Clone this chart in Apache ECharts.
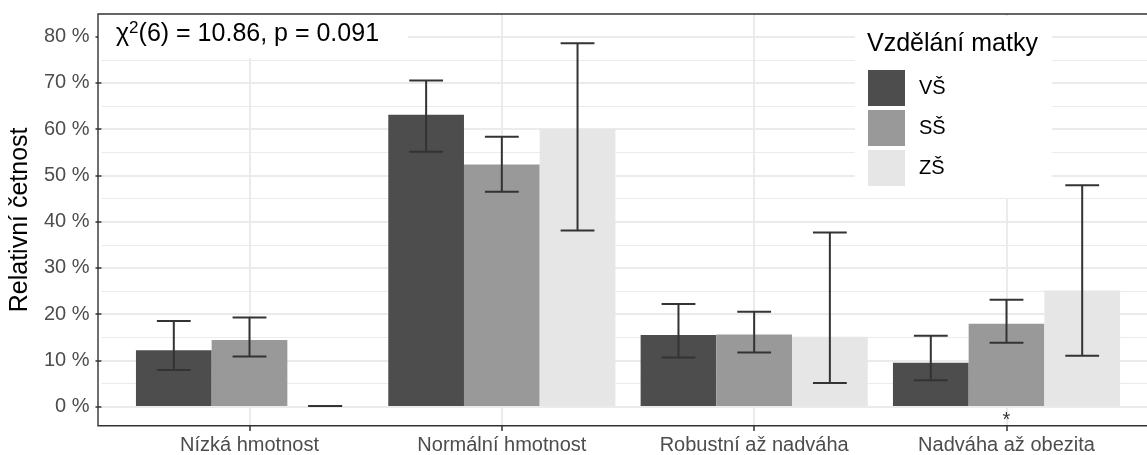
<!DOCTYPE html>
<html>
<head>
<meta charset="utf-8">
<script src="https://cdn.jsdelivr.net/npm/echarts@6/dist/echarts.min.js"></script>
<style>
html,body{margin:0;padding:0;background:#fff;}
#c{width:1147px;height:455px;}
</style>
</head>
<body>
<div id="c"></div>
<script>
// ---- data ----
const categories = ['Nízká hmotnost', 'Normální hmotnost', 'Robustní až nadváha', 'Nadváha až obezita'];
const groups = ['VŠ', 'SŠ', 'ZŠ'];
const valVS = [12.1, 63.1, 15.4, 9.4];
const valSS = [14.3, 52.3, 15.5, 17.8];
const valZS = [0.0, 60.0, 15.0, 25.0];
const loVS = [7.8, 55.1, 10.5, 5.6];
const hiVS = [18.4, 70.5, 22.1, 15.2];
const loSS = [10.7, 46.4, 11.6, 13.7];
const hiSS = [19.2, 58.3, 20.4, 23.0];
const loZS = [0.0, 38.0, 5.0, 10.9];
const hiZS = [0.0, 78.6, 37.6, 47.8];
const majorTicks = [0, 10, 20, 30, 40, 50, 60, 70, 80];
const minorTicks = [5, 15, 25, 35, 45, 55, 65, 75];
const signif = ['', '', '', '*'];
const legendTitle = 'Vzdělání matky';
const yTitle = 'Relativní četnost';
const testText = { chi: 'χ', sup: '2', rest: '(6) = 10.86, p = 0.091' };

// ---- style ----
const FONT = 'Liberation Sans, Arial, sans-serif';
const colors = ['#4d4d4d', '#999999', '#e6e6e6'];
const Y_MIN = -4.11, Y_MAX = 84.91;
const PANEL = { left: 98, top: 14, width: 1060, height: 411.7 };
const CAT_LEFT = 249.5, CAT_RIGHT = 1147 - 1006.5;

const values = [valVS, valSS, valZS];
const lows = [loVS, loSS, loZS];
const highs = [hiVS, hiSS, hiZS];

const chart = echarts.init(document.getElementById('c'), null, { renderer: 'canvas' });

const barSeries = groups.map((g, i) => ({
  name: g,
  type: 'bar',
  xAxisIndex: 1,
  yAxisIndex: 2,
  data: values[i],
  barWidth: '30%',
  barGap: '0%',
  clip: false,
  itemStyle: { color: colors[i] },
  z: 2
}));

const offsets = [-0.3, 0, 0.3];
const errSeries = groups.map((g, i) => ({
  name: 'err_' + g,
  type: 'custom',
  xAxisIndex: 1,
  yAxisIndex: 2,
  clip: false,
  z: 3,
  data: categories.map((c, k) => [k, lows[i][k], highs[i][k]]),
  renderItem: function (params, api) {
    const band = api.size([1, 0])[0];
    const pHi = api.coord([api.value(0), api.value(2)]);
    const pLo = api.coord([api.value(0), api.value(1)]);
    const cx = pHi[0] + offsets[i] * band;
    const hw = 0.067 * band;
    const st = { stroke: '#333333', lineWidth: 2 };
    return {
      type: 'group',
      children: [
        { type: 'line', shape: { x1: cx, y1: pHi[1], x2: cx, y2: pLo[1] }, style: st },
        { type: 'line', shape: { x1: cx - hw, y1: pHi[1], x2: cx + hw, y2: pHi[1] }, style: st },
        { type: 'line', shape: { x1: cx - hw, y1: pLo[1], x2: cx + hw, y2: pLo[1] }, style: st }
      ]
    };
  }
}));

const signifSeries = {
  name: 'signif',
  type: 'scatter',
  xAxisIndex: 1,
  yAxisIndex: 2,
  symbolSize: 0,
  clip: false,
  data: signif.map((s, k) => [k, -3.2, s]),
  label: {
    show: true,
    position: 'inside',
    formatter: p => p.data[2],
    fontFamily: FONT,
    fontSize: 20,
    color: '#000'
  },
  z: 4
};

const option = {
  animation: false,
  backgroundColor: '#ffffff',
  textStyle: { fontFamily: FONT },
  grid: [
    { left: PANEL.left, top: PANEL.top, width: PANEL.width, height: PANEL.height, show: false },
    { left: CAT_LEFT, right: CAT_RIGHT, top: PANEL.top, height: PANEL.height, show: false }
  ],
  xAxis: [
    { type: 'value', gridIndex: 0, show: false, min: 0, max: 1 },
    {
      type: 'category', gridIndex: 1, data: categories, boundaryGap: false,
      axisLine: { show: false, onZero: false },
      axisTick: { show: true, length: 6, interval: 0, lineStyle: { color: '#333333', width: 1.5 } },
      axisLabel: { interval: 0, fontSize: 20, color: '#4d4d4d', margin: 10, fontFamily: FONT },
      splitLine: { show: true, interval: 0, lineStyle: { color: '#ebebeb', width: 2 } }
    }
  ],
  yAxis: [
    {
      type: 'value', gridIndex: 0, min: Y_MIN, max: Y_MAX,
      name: yTitle, nameLocation: 'middle', nameGap: 62,
      nameTextStyle: { fontSize: 25, color: '#000', fontFamily: FONT },
      axisLine: { show: false, onZero: false },
      axisTick: { show: true, length: 6, customValues: majorTicks, lineStyle: { color: '#333333', width: 1.5 } },
      axisLabel: { customValues: majorTicks, formatter: v => v + ' %', fontSize: 20, color: '#4d4d4d', margin: 12, fontFamily: FONT },
      splitLine: { show: true, lineStyle: { color: '#ebebeb', width: 2 } }
    },
    {
      type: 'value', gridIndex: 0, min: Y_MIN, max: Y_MAX,
      axisLine: { show: false, onZero: false },
      axisTick: { show: false, customValues: minorTicks },
      axisLabel: { show: false, customValues: minorTicks },
      splitLine: { show: true, lineStyle: { color: '#ebebeb', width: 1 } }
    },
    { type: 'value', gridIndex: 1, min: Y_MIN, max: Y_MAX, show: false, splitLine: { show: false } }
  ],
  legend: {
    data: groups,
    orient: 'vertical',
    left: 868, top: 70,
    padding: 0,
    itemWidth: 37, itemHeight: 36, itemGap: 4,
    icon: 'rect',
    textStyle: { fontSize: 20, color: '#000', fontFamily: FONT, padding: [0, 0, 0, 9] },
    z: 6
  },
  graphic: {
    elements: [
      { type: 'rect', z: 3, shape: { x: 98, y: 14, width: 310, height: 44 }, style: { fill: '#ffffff' }, silent: true },
      { type: 'rect', z: 3, shape: { x: 855, y: 16, width: 197, height: 182 }, style: { fill: '#ffffff' }, silent: true },
      { type: 'rect', z: 10, shape: { x: PANEL.left, y: PANEL.top, width: PANEL.width, height: PANEL.height }, style: { fill: 'none', stroke: '#333333', lineWidth: 1.4 }, silent: true },
      {
        type: 'text', z: 11, left: 116, top: 19.6,
        style: {
          text: '{m|' + testText.chi + '}{s|' + testText.sup + '}{m|' + testText.rest + '}',
          rich: {
            m: { fontSize: 25, lineHeight: 30, fontFamily: FONT, fill: '#000', verticalAlign: 'middle' },
            s: { fontSize: 17, lineHeight: 17, fontFamily: FONT, fill: '#000', verticalAlign: 'top' }
          }
        }
      },
      {
        type: 'text', z: 11, left: 867, top: 32,
        style: { text: legendTitle, fontSize: 25, fontFamily: FONT, fill: '#000' }
      }
    ]
  },
  series: [...barSeries, ...errSeries, signifSeries]
};
chart.setOption(option);
</script>
</body>
</html>
